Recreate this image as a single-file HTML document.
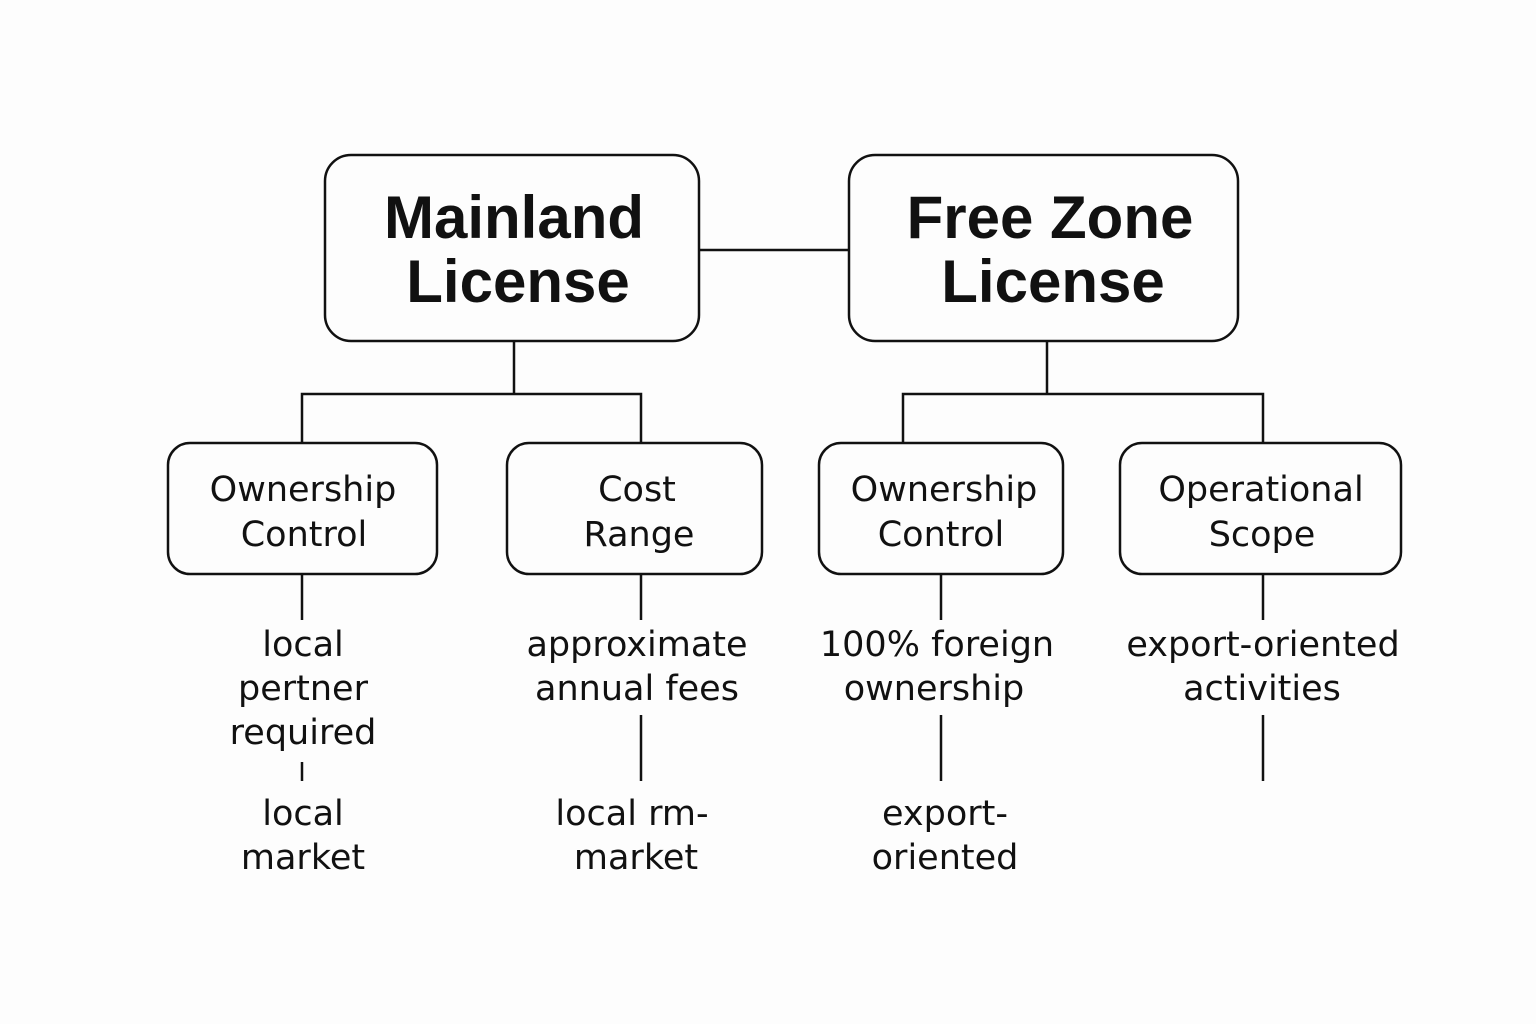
<!DOCTYPE html>
<html><head><style>
html,body{margin:0;padding:0;background:#fdfdfd;}
svg{display:block;}
text{font-family:"Liberation Sans",sans-serif;fill:#111;text-anchor:middle;}
.b{font-weight:bold;font-size:60px;}
.m{font-family:"DejaVu Sans","Liberation Sans",sans-serif;font-size:35px;}
</style></head><body>
<svg width="1536" height="1024" viewBox="0 0 1536 1024">
<rect width="1536" height="1024" fill="#fdfdfd"/>
<g fill="none" stroke="#111" stroke-width="2.5">
<rect x="325" y="155" width="374" height="186" rx="26"/>
<rect x="849" y="155" width="389" height="186" rx="26"/>
<line x1="699" y1="250" x2="849" y2="250"/>
<polyline points="514,341 514,394"/>
<polyline points="302,443 302,394 641,394 641,443"/>
<polyline points="1047,341 1047,394"/>
<polyline points="903,443 903,394 1263,394 1263,443"/>
<rect x="168" y="443" width="269" height="131" rx="22"/>
<rect x="507" y="443" width="255" height="131" rx="22"/>
<rect x="819" y="443" width="244" height="131" rx="22"/>
<rect x="1120" y="443" width="281" height="131" rx="22"/>
<line x1="302" y1="574" x2="302" y2="620"/>
<line x1="302" y1="762" x2="302" y2="781"/>
<line x1="641" y1="574" x2="641" y2="620"/>
<line x1="641" y1="715" x2="641" y2="781"/>
<line x1="941" y1="574" x2="941" y2="620"/>
<line x1="941" y1="715" x2="941" y2="781"/>
<line x1="1263" y1="574" x2="1263" y2="620"/>
<line x1="1263" y1="715" x2="1263" y2="781"/>
</g>
<text class="b" x="514" y="238">Mainland</text>
<text class="b" x="518" y="302">License</text>
<text class="b" x="1050" y="238">Free Zone</text>
<text class="b" x="1053" y="302">License</text>
<text class="m" x="303" y="501">Ownership</text>
<text class="m" x="304" y="546">Control</text>
<text class="m" x="637" y="501">Cost</text>
<text class="m" x="639" y="546">Range</text>
<text class="m" x="944" y="501">Ownership</text>
<text class="m" x="941" y="546">Control</text>
<text class="m" x="1261" y="501">Operational</text>
<text class="m" x="1262" y="546">Scope</text>
<text class="m" x="303" y="656">local</text>
<text class="m" x="303" y="700">pertner</text>
<text class="m" x="303" y="744">required</text>
<text class="m" x="303" y="825">local</text>
<text class="m" x="303" y="869">market</text>
<text class="m" x="637" y="656">approximate</text>
<text class="m" x="637" y="700">annual fees</text>
<text class="m" x="632" y="825">local rm-</text>
<text class="m" x="636" y="869">market</text>
<text class="m" x="937" y="656">100% foreign</text>
<text class="m" x="934" y="700">ownership</text>
<text class="m" x="945" y="825">export-</text>
<text class="m" x="945" y="869">oriented</text>
<text class="m" x="1263" y="656">export-oriented</text>
<text class="m" x="1262" y="700">activities</text>
</svg>
</body></html>
